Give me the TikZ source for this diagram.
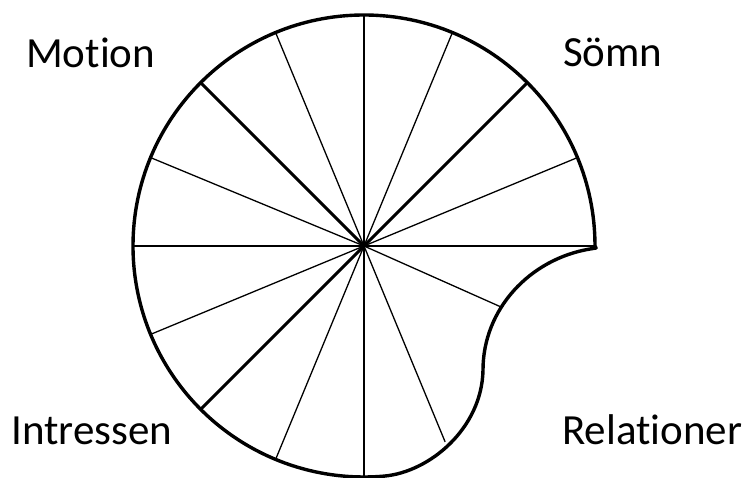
\documentclass[tikz,border=0pt]{standalone}
\usepackage{fontspec}
\setmainfont{Carlito}[Ligatures=NoCommon]
\usetikzlibrary{calc}

\begin{document}
\begin{tikzpicture}[x=1pt,y=1pt,
  rimline/.style={line width=3.4pt,line join=round},
  spokeheavy/.style={line width=3pt},
  spokemid/.style={line width=2pt},
  spokethin/.style={line width=1.3pt},
  wordlabel/.style={font=\fontsize{43}{50}\selectfont,anchor=base west,inner sep=0pt}]
\useasboundingbox (0,0) rectangle (748,478);
\coordinate (c) at (364,232);
\draw[spokemid] (c) -- +(0:231);
\draw[spokethin] (c) -- +(22.5:231);
\draw[spokeheavy] (c) -- +(45:231);
\draw[spokethin] (c) -- +(67.5:231);
\draw[spokemid] (c) -- +(90:231);
\draw[spokethin] (c) -- +(112.5:231);
\draw[spokeheavy] (c) -- +(135:231);
\draw[spokethin] (c) -- +(157.5:231);
\draw[spokemid] (c) -- +(180:231);
\draw[spokethin] (c) -- +(202.5:231);
\draw[spokeheavy] (c) -- +(225:231);
\draw[spokethin] (c) -- +(247.5:231);
\draw[spokemid] (c) -- +(270:231);
\draw[spokethin] (c) -- +(-67.5:212);
\draw[spokethin] (c) -- +(-24:149);
\draw[rimline] (595,232) arc[start angle=0,end angle=275,radius=231]
  .. controls (430,6) and (482,50) .. (483,108)
  .. controls (483,169) and (530,219) .. (590,229) -- (596,230) -- cycle;
\node[wordlabel] (motion) at (26,410) {Motion};
\node[wordlabel] (somn) at (563,411) {Sömn};
\node[wordlabel] (intressen) at (11,33) {Intressen};
\node[wordlabel] (relationer) at (562,33) {Relationer};
\end{tikzpicture}
\end{document}
